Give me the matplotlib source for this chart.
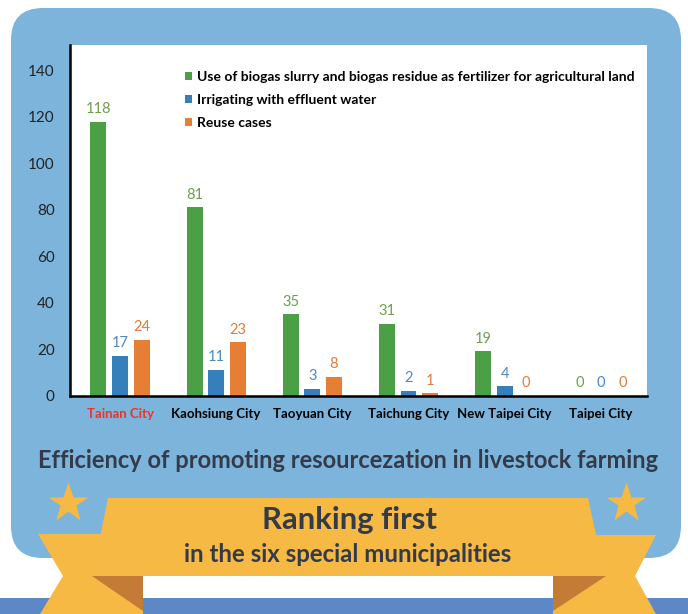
import matplotlib
matplotlib.use("Agg")
import matplotlib.pyplot as plt
import matplotlib.patches as mpatches
import numpy as np

plt.rcParams['font.family'] = ['Lato', 'DejaVu Sans']

cities = ["Tainan City", "Kaohsiung City", "Taoyuan City",
          "Taichung City", "New Taipei City", "Taipei City"]
fertilizer = [118, 81, 35, 31, 19, 0]
irrigation = [17, 11, 3, 2, 4, 0]
reuse = [24, 23, 8, 1, 0, 0]
series_names = ["Use of biogas slurry and biogas residue as fertilizer for agricultural land",
                "Irrigating with effluent water",
                "Reuse cases"]
yticks = [0, 20, 40, 60, 80, 100, 120, 140]

title = "Efficiency of promoting resourcezation in livestock farming"
banner_main = "Ranking first"
banner_sub = "in the six special municipalities"

BAR_COLORS = ["#4BA046", "#3580BB", "#E67E33"]
LABEL_COLORS = ["#6F9E4C", "#4F88C0", "#E27B3B"]
PANEL = "#7DB4DC"
STRIP = "#5C88C8"
GOLD = "#F5B944"
FOLD = "#C47B36"
DARK = "#343B48"

W, H = 688, 614
fig = plt.figure(figsize=(W / 100, H / 100), dpi=100)
fig.patch.set_facecolor("white")

""" Background decoration in pixel coordinates """
bg = fig.add_axes([0, 0, 1, 1], zorder=0)
bg.set_xlim(0, W)
bg.set_ylim(H, 0)
bg.axis("off")

bg.add_patch(mpatches.Rectangle((0, 598), W, 16, color=STRIP, lw=0))
bg.add_patch(mpatches.FancyBboxPatch((11, 8), 670, 550,
                                     boxstyle="round,pad=0,rounding_size=32",
                                     fc=PANEL, ec="none"))

# ribbon tails, folds and main band
bg.add_patch(mpatches.Polygon([(38, 534), (143, 534), (143, 614), (40, 614), (63, 576)],
                              closed=True, fc=GOLD, ec="none"))
bg.add_patch(mpatches.Polygon([(656, 535), (553, 535), (553, 614), (656, 614), (635, 576)],
                              closed=True, fc=GOLD, ec="none"))
bg.add_patch(mpatches.Polygon([(92, 576), (143, 576), (143, 611)],
                              closed=True, fc=FOLD, ec="none"))
bg.add_patch(mpatches.Polygon([(553, 576), (606, 576), (553, 611)],
                              closed=True, fc=FOLD, ec="none"))
bg.add_patch(mpatches.Polygon([(108, 498), (588, 498), (605, 576), (92, 576)],
                              closed=True, fc=GOLD, ec="none"))

for sx in (68, 626):
    bg.plot(sx, 503, marker="*", markersize=30, color=GOLD, mec="none")

bg.text(348, 461, title, ha="center", va="center", fontsize=17,
        fontweight="bold", color=DARK)
bg.text(349, 520, banner_main, ha="center", va="center", fontsize=22.3,
        fontweight="bold", color=DARK)
bg.text(348, 555, banner_sub, ha="center", va="center", fontsize=17.3,
        fontweight="bold", color=DARK)

""" Bar chart """
ax = fig.add_axes([70 / W, 1 - 395.5 / H, (647 - 70) / W, (395.5 - 45) / H], zorder=1)
ax.set_facecolor("white")
x = np.arange(len(cities))
offset = 0.224
width = 0.166
handles = []
for i, vals in enumerate([fertilizer, irrigation, reuse]):
    bars = ax.bar(x + (i - 1) * offset, vals, width, color=BAR_COLORS[i], label=series_names[i])
    handles.append(bars)
    for xi, v in zip(x + (i - 1) * offset, vals):
        ax.annotate(str(v), (xi, v), xytext=(0, 4), textcoords="offset points",
                    ha="center", va="bottom", fontsize=10.5, color=LABEL_COLORS[i])

ax.set_xlim(-0.52, 5.48)
ax.set_ylim(0, 151)
ax.set_yticks(yticks)
ax.set_xticks(x)
ax.set_xticklabels(cities, fontsize=9.5, fontweight="bold")
ax.get_xticklabels()[0].set_color("#EE3229")
ax.tick_params(axis="y", length=0, pad=11, labelsize=11, labelcolor="#222222")
ax.tick_params(axis="x", length=0, pad=9)
for side in ("top", "right"):
    ax.spines[side].set_visible(False)
for side in ("left", "bottom"):
    ax.spines[side].set_linewidth(1.8)
    ax.spines[side].set_color("black")

leg = ax.legend(handles=handles, loc="upper left", bbox_to_anchor=(178 / W, 1 - 64 / H),
                bbox_transform=fig.transFigure, frameon=False, fontsize=10,
                handlelength=0.5, handleheight=0.5, handletextpad=0.4,
                labelspacing=0.78, borderpad=0)
for t in leg.get_texts():
    t.set_fontweight("bold")

fig.savefig("out.png", dpi=100)
